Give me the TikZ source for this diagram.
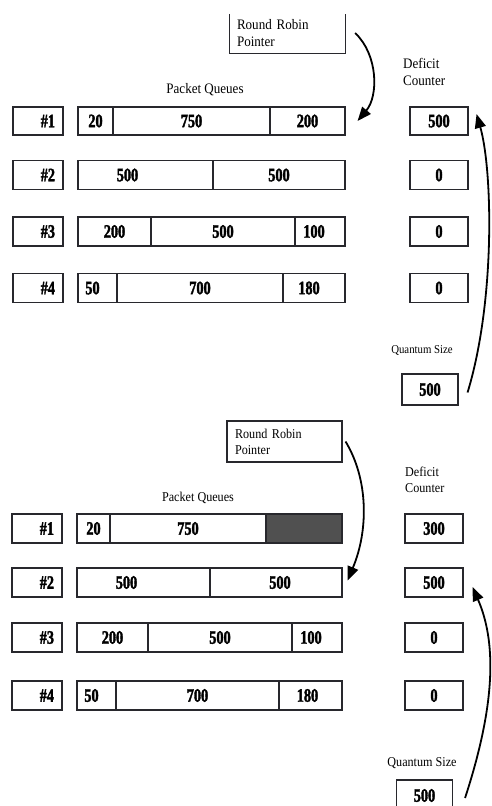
\documentclass[tikz,border=0pt]{standalone}
\usepackage{fontspec}
\setmainfont{Liberation Serif}[FakeStretch=0.9]
\newfontfamily\numfont{Liberation Serif}[FakeStretch=0.75, BoldFeatures={FakeBold=1.8}]
\usetikzlibrary{arrows.meta, calc, positioning}
\definecolor{boxline}{RGB}{40,40,45}
\definecolor{sentfill}{RGB}{80,80,80}

\tikzset{
  num/.style={font=\numfont\bfseries\fontsize{19}{19}\selectfont},
  cell/.style={draw=boxline, line width=1.1pt, minimum height=29pt, inner sep=0pt, num},
  idbox/.style={cell, minimum width=50pt, text width=34pt, align=right, inner xsep=8pt},
  cntbox/.style={cell, minimum width=58pt},
  qbox/.style={cell, minimum width=56pt, minimum height=31pt},
  caption/.style={inner sep=0pt, font=\fontsize{14.5}{17}\selectfont},
  captionb/.style={inner sep=0pt, font=\fontsize{13.5}{16}\selectfont},
  rrbox/.style={text width=101pt, align=left, inner xsep=7pt, inner ysep=0pt, minimum height=40pt},
  ptr/.style={line width=1.8pt, -{Triangle[length=14pt, width=11pt]}},
}

\begin{document}
\begin{tikzpicture}[x=1pt, y=-1pt]
    \useasboundingbox (0,0) rectangle (491,806);
    \clip (0,0) rectangle (491,806);

    % Round one
    \node[caption, rrbox] (trr) at (287.5,33) {Round Robin\\Pointer};
    \draw[boxline, line width=1.1pt] ([yshift=-1pt]trr.north west) -- (trr.south west) -- (trr.south east) -- ([yshift=-1pt]trr.north east);
    \node[caption, align=left, anchor=west] (tdef) at (403,72) {Deficit\\Counter};
    \node[caption] (tpq) at (205,90) {Packet Queues};

    \node[idbox, minimum height=28pt] (tid1) at (38,121) {\#1};
    \node[cell, minimum height=28pt, minimum width=35pt] (tq1a) at (95.5,121) {20};
    \node[cell, minimum height=28pt, minimum width=157pt] (tq1b) at (191.5,121) {750};
    \node[cell, minimum height=28pt, minimum width=75pt] (tq1c) at (307.5,121) {200};
    \node[cntbox, minimum height=28pt] (tc1) at (439,121) {500};

    \node[idbox] (tid2) at (38,175) {\#2};
    \node[cell, minimum width=135pt, label={[num, xshift=-18pt]center:500}] (tq2a) at (145.5,175) {};
    \node[cell, minimum width=132pt] (tq2b) at (279,175) {500};
    \node[cntbox] (tc2) at (439,175) {0};

    \node[idbox] (tid3) at (38,231.5) {\#3};
    \node[cell, minimum width=73pt] (tq3a) at (114.5,231.5) {200};
    \node[cell, minimum width=144pt] (tq3b) at (223,231.5) {500};
    \node[cell, minimum width=50pt, label={[num, xshift=-6pt]center:100}] (tq3c) at (320,231.5) {};
    \node[cntbox] (tc3) at (439,231.5) {0};

    \node[idbox] (tid4) at (38,288) {\#4};
    \node[cell, minimum width=39pt, label={[num, xshift=-5pt]center:50}] (tq4a) at (97.5,288) {};
    \node[cell, minimum width=166pt] (tq4b) at (200,288) {700};
    \node[cell, minimum width=62pt, label={[num, xshift=-5pt]center:180}] (tq4c) at (314,288) {};
    \node[cntbox] (tc4) at (439,288) {0};

    \node[caption, font=\fontsize{12}{14}\selectfont] (tqs) at (422,350) {Quantum Size};
    \node[qbox] (tqa) at (430,389.5) {500};

    \draw[ptr] ([xshift=10pt]trr.east) .. controls +(23,22) and +(21,-25) .. ([xshift=12pt]tq1c.east);
    \draw[ptr] ([shift={(9,3)}]tqa.east) .. controls +(28,-92) and +(16,56) .. ([shift={(8,-7)}]tc1.east);

    % Round two
    \node[captionb, rrbox, draw=boxline, line width=1.1pt, minimum height=41pt, inner xsep=8pt, text width=99pt] (brr) at (284.5,441.5) {Round Robin\\Pointer};
    \node[captionb, align=left, anchor=west] (bdef) at (405,480) {Deficit\\Counter};
    \node[captionb] (bpq) at (198,498) {Packet Queues};

    \node[idbox] (bid1) at (37,528.5) {\#1};
    \node[cell, minimum width=33pt] (bq1a) at (93.5,528.5) {20};
    \node[cell, minimum width=156pt] (bq1b) at (188,528.5) {750};
    \node[cell, minimum width=76pt, fill=sentfill] (bq1c) at (304,528.5) {};
    \node[cntbox] (bc1) at (434,528.5) {300};

    \node[idbox] (bid2) at (37,582.5) {\#2};
    \node[cell, minimum width=133pt, label={[num, xshift=-17pt]center:500}] (bq2a) at (143.5,582.5) {};
    \node[cell, minimum width=132pt, label={[num, xshift=4pt]center:500}] (bq2b) at (276,582.5) {};
    \node[cntbox] (bc2) at (434,582.5) {500};

    \node[idbox] (bid3) at (37,637.5) {\#3};
    \node[cell, minimum width=71pt] (bq3a) at (112.5,637.5) {200};
    \node[cell, minimum width=144pt] (bq3b) at (220,637.5) {500};
    \node[cell, minimum width=50pt, label={[num, xshift=-6pt]center:100}] (bq3c) at (317,637.5) {};
    \node[cntbox] (bc3) at (434,637.5) {0};

    \node[idbox] (bid4) at (37,695.5) {\#4};
    \node[cell, minimum width=39pt, label={[num, xshift=-5pt]center:50}] (bq4a) at (96.5,695.5) {};
    \node[cell, minimum width=163pt] (bq4b) at (197.5,695.5) {700};
    \node[cell, minimum width=63pt, label={[num, xshift=-3pt]center:180}] (bq4c) at (310.5,695.5) {};
    \node[cntbox] (bc4) at (434,695.5) {0};

    \node[captionb] (bqs) at (422,763) {Quantum Size};
    \node[qbox] (bqa) at (424.5,795.5) {500};

    \draw[ptr] ([xshift=3pt]brr.east) .. controls +(23,38) and +(21,-50) .. ([shift={(5,-2)}]bq2b.east);
    \draw[ptr] ([shift={(12,2.5)}]bqa.east) .. controls +(32,-98) and +(23,53) .. ([shift={(9,4.5)}]bc2.east);
\end{tikzpicture}
\end{document}
